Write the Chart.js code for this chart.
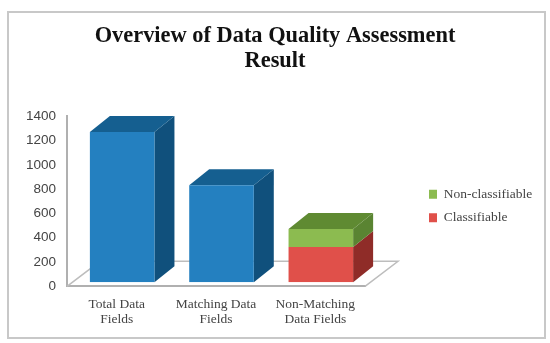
<!DOCTYPE html>
<html>
<head>
<meta charset="utf-8">
<title>Overview of Data Quality Assessment Result</title>
<script src="https://cdn.jsdelivr.net/npm/chart.js@4/dist/chart.umd.min.js"></script>
<style>
    html, body { margin: 0; padding: 0; background: #fff; }
    #frame { position: absolute; left: 7px; top: 11px; width: 535px; height: 324px; border: 2px solid #c8c8c8; }
    canvas { position: absolute; left: 0; top: 0; }
</style>
</head>
<body>
<div id="frame"></div>
<canvas id="qualityChart" width="550" height="343"></canvas>
<script>
const categories = [['Total Data', 'Fields'], ['Matching Data', 'Fields'], ['Non-Matching', 'Data Fields']];
const allFields = [1236, 798, null];
const classifiable = [null, null, 290];
const nonClassifiable = [null, null, 148];
const yMax = 1400;
const yStep = 200;

// how far the bars sit back from the axis plane, and how deep they are
const BAR_SHIFT = { x: 5.5, y: -4 };
const BAR_DEPTH = { x: 20, y: -16 };
const FLOOR_DEPTH = { x: 33, y: -25 };
const LEGEND_SHIFT = { x: 54, y: 32 };
const TITLE_SHIFT = 27;

function fillShape(ctx, color, points) {
    ctx.fillStyle = color;
    ctx.beginPath();
    points.forEach((p, i) => i ? ctx.lineTo(p[0], p[1]) : ctx.moveTo(p[0], p[1]));
    ctx.closePath();
    ctx.fill();
}

const floorPlugin = {
    id: 'floor',
    afterLayout(chart) {
        // plot is narrower than chart.js would make it, so nudge legend and title into place
        chart.legend.left += LEGEND_SHIFT.x;
        chart.legend.right += LEGEND_SHIFT.x;
        chart.legend.top += LEGEND_SHIFT.y;
        chart.legend.bottom += LEGEND_SHIFT.y;
        chart.titleBlock.left += TITLE_SHIFT;
        chart.titleBlock.right += TITLE_SHIFT;
    },
    beforeDatasetsDraw(chart) {
        const { ctx, chartArea: a } = chart;
        ctx.save();
        ctx.strokeStyle = '#bdbdbd';
        ctx.lineWidth = 1.5;
        ctx.beginPath();
        ctx.moveTo(a.left, a.bottom);
        ctx.lineTo(a.left + FLOOR_DEPTH.x, a.bottom + FLOOR_DEPTH.y);
        ctx.lineTo(a.right + FLOOR_DEPTH.x, a.bottom + FLOOR_DEPTH.y);
        ctx.lineTo(a.right, a.bottom);
        ctx.stroke();
        ctx.restore();
    }
};

// side and top faces of each bar, then the front faces get drawn by chart.js
const boxPlugin = {
    id: 'box',
    beforeDatasetsDraw(chart) {
        const ctx = chart.ctx;
        ctx.save();
        ctx.translate(BAR_SHIFT.x, BAR_SHIFT.y);
        chart.data.datasets.forEach((ds, d) => {
            chart.getDatasetMeta(d).data.forEach((bar, i) => {
                if (ds.data[i] === null) return;
                const right = bar.x + bar.width / 2;
                const left = bar.x - bar.width / 2;
                fillShape(ctx, ds.sideColor, [
                    [right, bar.base], [right + BAR_DEPTH.x, bar.base + BAR_DEPTH.y],
                    [right + BAR_DEPTH.x, bar.y + BAR_DEPTH.y], [right, bar.y]
                ]);
                const onTop = !chart.data.datasets.slice(d + 1).some(o => o.data[i] !== null);
                if (onTop) {
                    fillShape(ctx, ds.topColor, [
                        [left, bar.y], [right, bar.y],
                        [right + BAR_DEPTH.x, bar.y + BAR_DEPTH.y], [left + BAR_DEPTH.x, bar.y + BAR_DEPTH.y]
                    ]);
                }
            });
        });
    },
    afterDatasetsDraw(chart) {
        chart.ctx.restore();
    }
};

new Chart(document.getElementById('qualityChart'), {
    type: 'bar',
    data: {
        labels: categories,
        datasets: [
            { label: 'Data Fields', data: allFields, backgroundColor: '#2480c0', sideColor: '#10507c', topColor: '#155f90' },
            { label: 'Classifiable', data: classifiable, backgroundColor: '#e0504a', sideColor: '#8f2c28', topColor: '#a8332e' },
            { label: 'Non-classifiable', data: nonClassifiable, backgroundColor: '#8cbb50', sideColor: '#5a8432', topColor: '#5f8a32' }
        ]
    },
    options: {
        responsive: false,
        animation: false,
        layout: { padding: { left: 14, right: 68, top: 18, bottom: 13 } },
        datasets: { bar: { barPercentage: 0.65, categoryPercentage: 1 } },
        plugins: {
            tooltip: { enabled: false },
            title: {
                display: true,
                text: ['Overview of Data Quality Assessment', 'Result'],
                color: '#111',
                font: { family: '"Liberation Serif"', size: 22.4, weight: 'bold', lineHeight: 1.12 },
                padding: { top: 6, bottom: 42 }
            },
            legend: {
                position: 'right',
                reverse: true,
                labels: {
                    filter: item => item.text !== 'Data Fields',
                    boxWidth: 8,
                    boxHeight: 9,
                    padding: 10,
                    color: '#444',
                    font: { family: '"Liberation Serif"', size: 13.5 }
                }
            }
        },
        scales: {
            x: {
                stacked: true,
                grid: { display: false },
                border: { color: '#b0b0b0', width: 2 },
                ticks: { color: '#444', maxRotation: 0, padding: 3, font: { family: '"Liberation Serif"', size: 13.5, lineHeight: 1.1 } }
            },
            y: {
                stacked: true,
                min: 0,
                max: yMax,
                afterFit: scale => { scale.width = 53; },
                grid: { display: false },
                border: { color: '#b0b0b0', width: 2 },
                ticks: { stepSize: yStep, color: '#444', padding: 3, callback: v => String(v), font: { family: '"Liberation Sans"', size: 13.5 } }
            }
        }
    },
    plugins: [floorPlugin, boxPlugin]
});
</script>
</body>
</html>
